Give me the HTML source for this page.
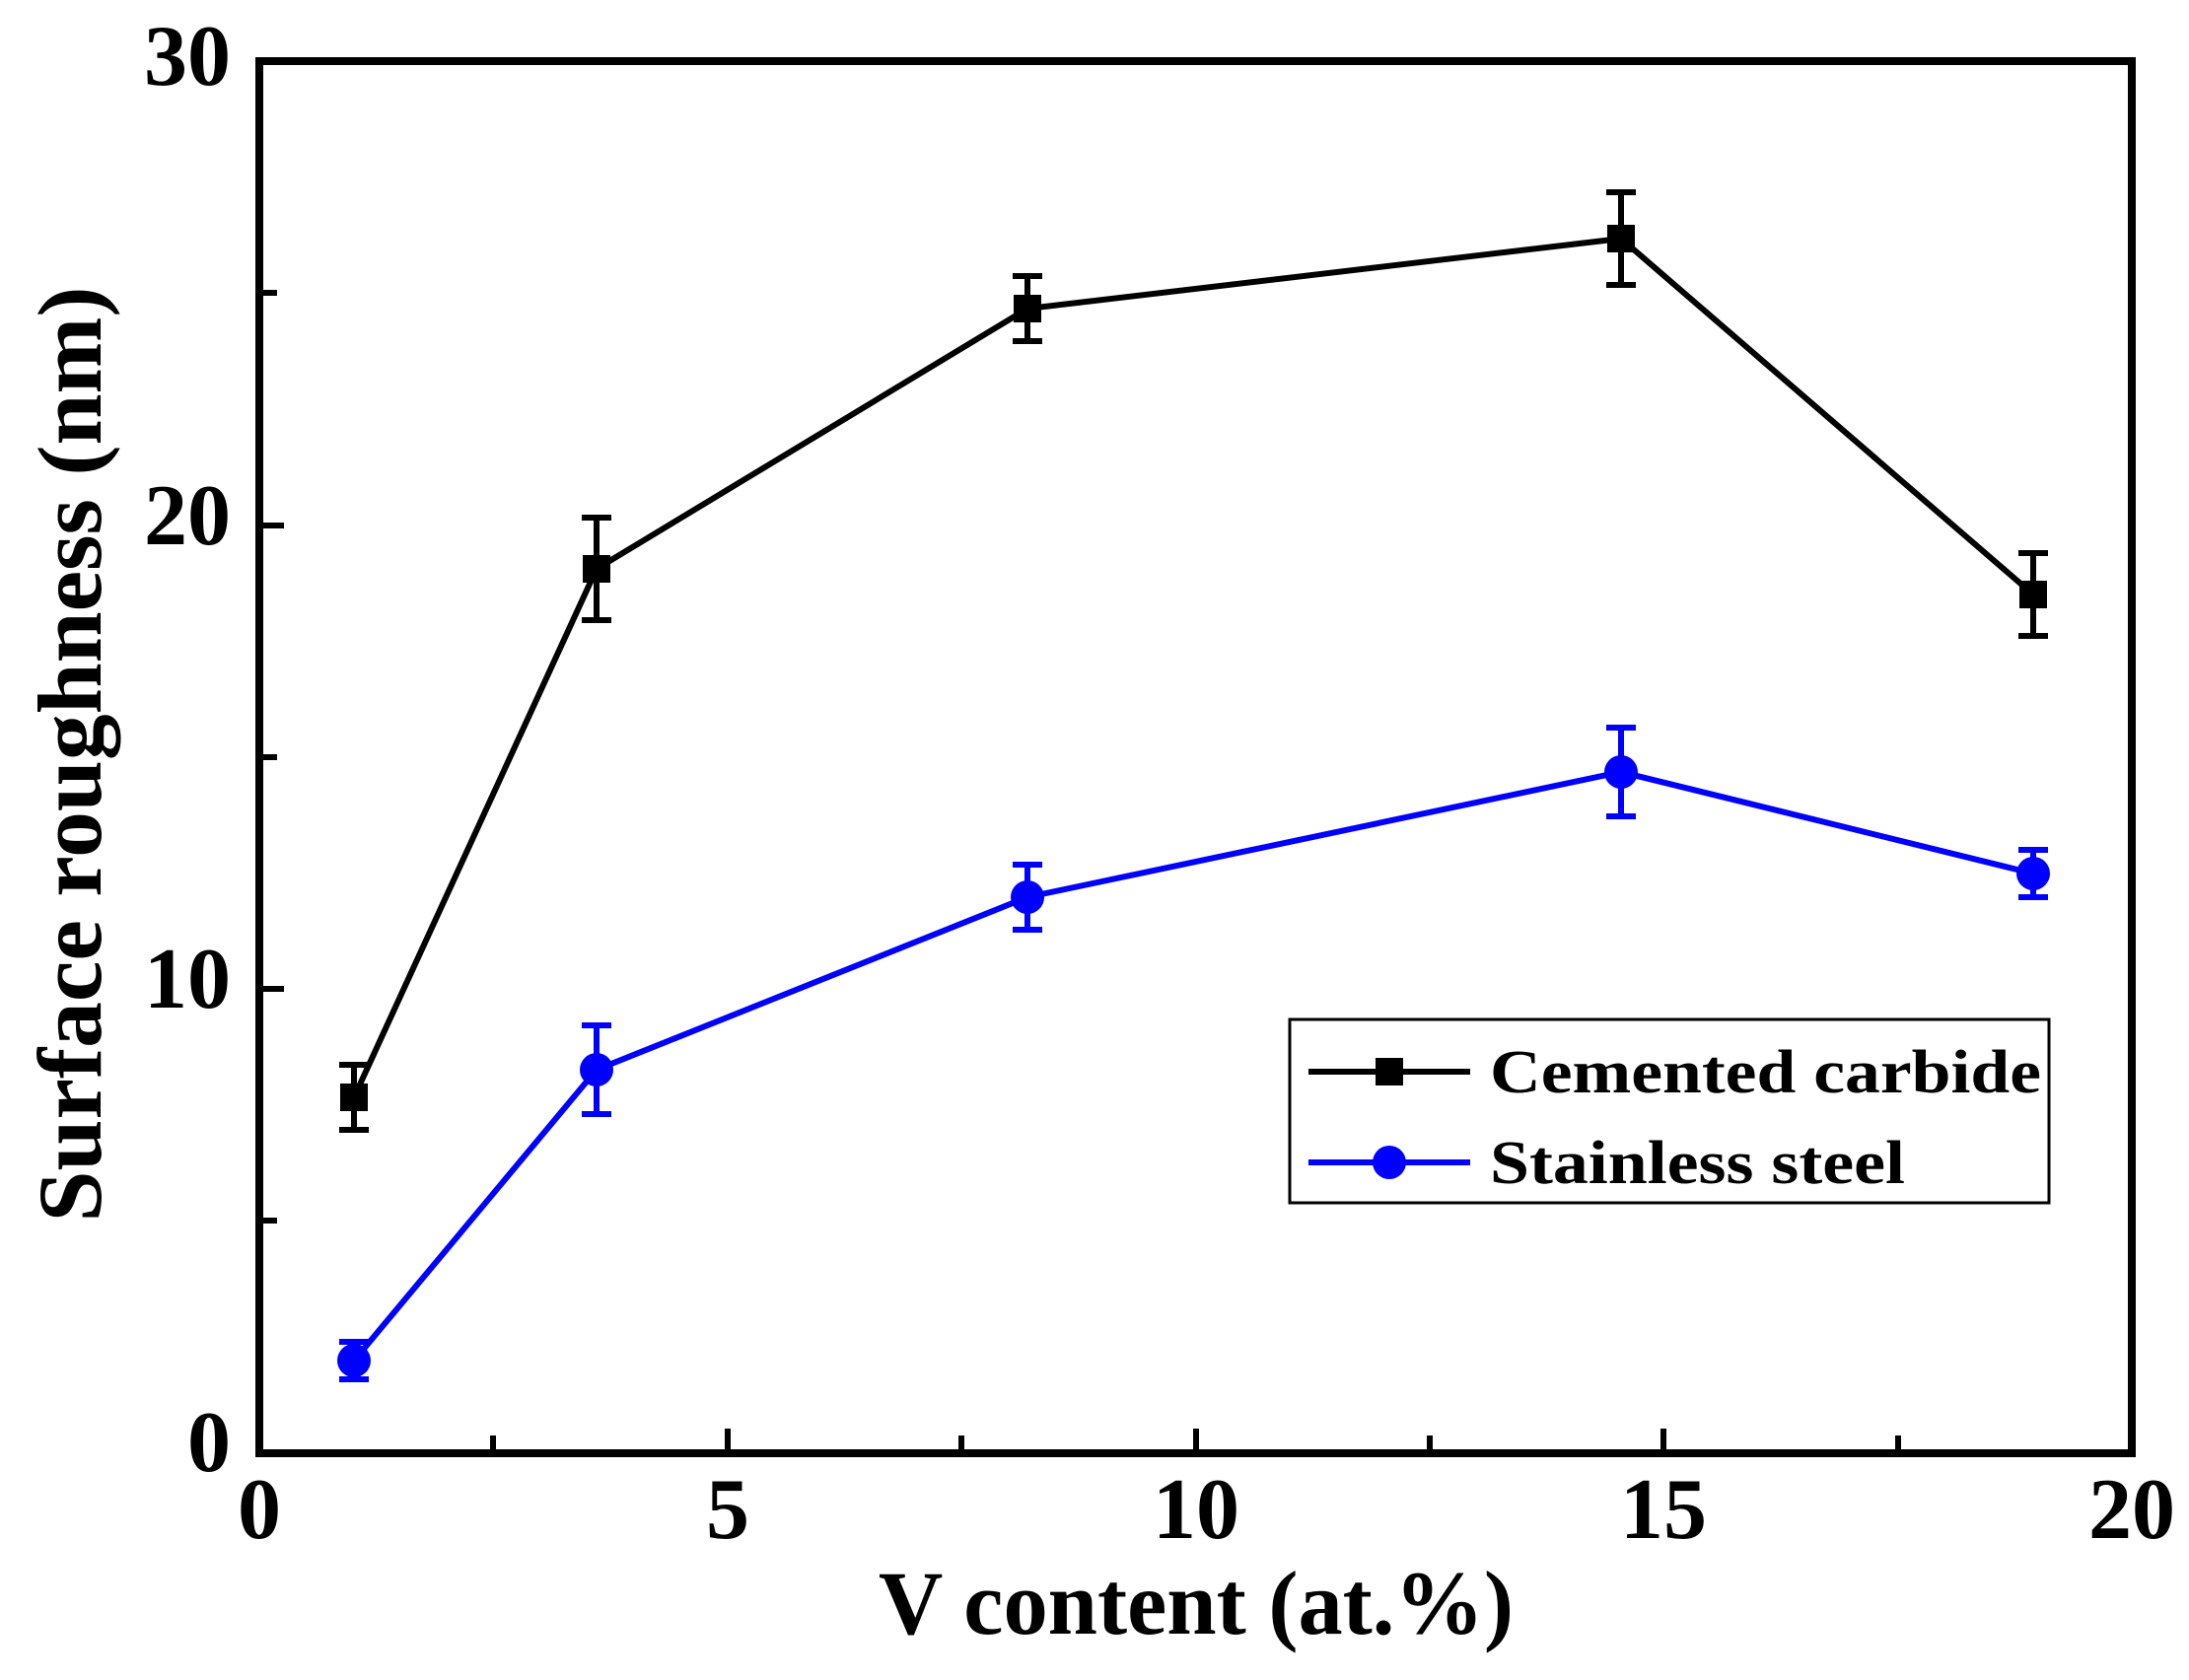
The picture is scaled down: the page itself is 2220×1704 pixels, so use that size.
<!DOCTYPE html>
<html><head><meta charset="utf-8"><style>html,body{margin:0;padding:0;background:#fff;}svg{display:block;}</style></head>
<body>
<svg width="2220" height="1704" viewBox="0 0 2220 1704" xmlns="http://www.w3.org/2000/svg" font-family="'Liberation Serif', serif" font-weight="bold">
<rect width="2220" height="1704" fill="#fff"/>
<g stroke="#000" stroke-width="6" fill="none">
<line x1="263" y1="1238" x2="281" y2="1238"/><line x1="263" y1="1003" x2="288" y2="1003"/><line x1="263" y1="768" x2="281" y2="768"/><line x1="263" y1="533" x2="288" y2="533"/><line x1="263" y1="297" x2="281" y2="297"/>
<line x1="500" y1="1474" x2="500" y2="1456"/><line x1="738" y1="1474" x2="738" y2="1449"/><line x1="975" y1="1474" x2="975" y2="1456"/><line x1="1213" y1="1474" x2="1213" y2="1449"/><line x1="1450" y1="1474" x2="1450" y2="1456"/><line x1="1687" y1="1474" x2="1687" y2="1449"/><line x1="1925" y1="1474" x2="1925" y2="1456"/>
</g>
<rect x="263" y="62" width="1899" height="1412" fill="none" stroke="#000" stroke-width="8"/>
<g font-size="88" text-anchor="end" fill="#000">
<text x="234" y="1492">0</text><text x="234" y="1022">10</text><text x="234" y="552">20</text><text x="234" y="86">30</text>
</g>
<g font-size="88" text-anchor="middle" fill="#000">
<text x="263" y="1560">0</text><text x="738" y="1560">5</text><text x="1213" y="1560">10</text><text x="1687" y="1560">15</text><text x="2162" y="1560">20</text>
</g>
<text x="1213" y="1657" font-size="92" text-anchor="middle" textLength="644" lengthAdjust="spacingAndGlyphs">V content (at.%)</text>
<text transform="translate(102,765) rotate(-90)" font-size="92" text-anchor="middle" textLength="949" lengthAdjust="spacingAndGlyphs">Surface roughness (nm)</text>
<g stroke="#000" stroke-width="6" fill="none">
<polyline stroke-width="6" points="359,1113 605,577 1042,313 1644,242 2062,603"/>
<path d="M359,1080V1146M344,1080H374M344,1146H374 M605,525V629M590,525H620M590,629H620 M1042,280V346M1027,280H1057M1027,346H1057 M1644,195V289M1629,195H1659M1629,289H1659 M2062,561V645M2047,561H2077M2047,645H2077"/>
</g>
<g fill="#000">
<rect x="345" y="1099" width="28" height="28"/><rect x="591" y="563" width="28" height="28"/><rect x="1028" y="299" width="28" height="28"/><rect x="1630" y="228" width="28" height="28"/><rect x="2048" y="589" width="28" height="28"/>
</g>
<g stroke="#0000ff" stroke-width="6" fill="none">
<polyline stroke-width="6" points="359,1380 605,1085 1042,910 1644,783 2062,886"/>
<path d="M359,1361V1399M344,1361H374M344,1399H374 M605,1040V1130M590,1040H620M590,1130H620 M1042,877V943M1027,877H1057M1027,943H1057 M1644,738V828M1629,738H1659M1629,828H1659 M2062,862V910M2047,862H2077M2047,910H2077"/>
</g>
<g fill="#0000ff">
<circle cx="359" cy="1380" r="17"/><circle cx="605" cy="1085" r="17"/><circle cx="1042" cy="910" r="17"/><circle cx="1644" cy="783" r="17"/><circle cx="2062" cy="886" r="17"/>
</g>
<rect x="1308" y="1034" width="770" height="186" fill="#fff" stroke="#000" stroke-width="3"/>
<line x1="1327" y1="1087" x2="1491" y2="1087" stroke="#000" stroke-width="6"/>
<rect x="1395" y="1073" width="28" height="28" fill="#000"/>
<line x1="1327" y1="1179" x2="1491" y2="1179" stroke="#0000ff" stroke-width="6"/>
<circle cx="1409" cy="1179" r="17" fill="#0000ff"/>
<text x="1511" y="1108" font-size="62" textLength="559" lengthAdjust="spacingAndGlyphs">Cemented carbide</text>
<text x="1511" y="1200" font-size="62" textLength="421" lengthAdjust="spacingAndGlyphs">Stainless steel</text>
</svg>
</body></html>
